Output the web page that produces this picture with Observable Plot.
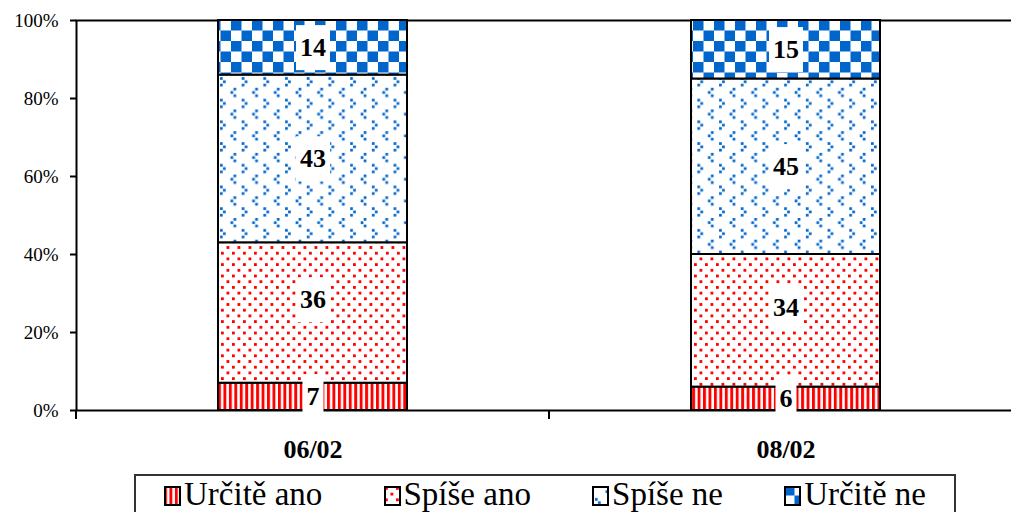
<!DOCTYPE html>
<html>
<head>
<meta charset="utf-8">
<script src="https://cdn.jsdelivr.net/npm/d3@7"></script>
<script src="https://cdn.jsdelivr.net/npm/@observablehq/plot@0.6"></script>
<style>
  html, body { margin: 0; padding: 0; background: #fff; overflow: hidden; width: 1011px; height: 512px; }
  svg.chart { max-width: none !important; display: block; font-family: "Liberation Serif", "Times New Roman", serif !important; }
  svg.chart text { font-family: "Liberation Serif", "Times New Roman", serif !important; }
  svg.chart g[aria-label="y-axis tick label"] text { font-size: 19px !important; }
  .legend {
    box-sizing: border-box; margin-left: 134px; width: 822px; height: 60px;
    border: 2px solid #333; display: flex; justify-content: space-between;
    padding: 0 28px; font-family: "Liberation Serif", "Times New Roman", serif; font-size: 33px;
    line-height: 36px; color: #000;
  }
  .legend .item { display: flex; align-items: center; height: 36px; }
  .legend svg { display: block; margin-right: 3px; margin-top: 3px; }
</style>
</head>
<body>
<div id="chart"></div>
<div class="legend" id="legend"></div>
<script>
const categories = ["06/02", "08/02"];
const series = ["Určitě ano", "Spíše ano", "Spíše ne", "Určitě ne"];
const values0602 = [7, 36, 43, 14];
const values0802 = [6, 34, 45, 15];
const yTicks = [0, 20, 40, 60, 80, 100];
const patternIds = ["p-ua", "p-sa", "p-sn", "p-un"];

const valuesByCat = [values0602, values0802];
const data = [];
categories.forEach((c, ci) => series.forEach((s, si) => data.push({cat: c, series: s, value: valuesByCat[ci][si]})));

const RED = "#ff0000", BLUE = "#0066cc";
const FONT = "Liberation Serif, Times New Roman, serif";

const labelOpts = {x: "cat", y: "value", fontSize: 26, fontWeight: "bold", fill: "#000", fontFamily: FONT};

const plot = Plot.plot({
  width: 1022,
  height: 474,
  marginLeft: 76,
  marginRight: 0,
  marginTop: 20,
  marginBottom: 64,
  className: "chart",
  style: {fontFamily: FONT, color: "#000", background: "#fff", maxWidth: "none"},
  x: {domain: categories, paddingInner: 0.6, paddingOuter: 0.3, label: null},
  y: {domain: [0, 100], label: null},
  color: {domain: series, range: patternIds.map(id => `url(#${id})`)},
  marks: [
    Plot.axisY({ticks: yTicks, tickFormat: d => d + "%", tickSize: 6, tickPadding: 12, fontSize: 19, label: null}),
    Plot.axisX({tickSize: 0, tickPadding: 29, fontSize: 26, fontWeight: "bold", label: null}),
    Plot.frame({stroke: "#000", strokeWidth: 2}),
    Plot.barY(data, {x: "cat", y: "value", fill: "series", stroke: "#000", strokeWidth: 2}),
    Plot.text(data, Plot.stackY({...labelOpts, text: d => d.series === "Spíše ano" ? "" : String(d.value)})),
    Plot.text(data, Plot.stackY({...labelOpts, text: d => d.series === "Spíše ano" ? String(d.value) : "", dy: -13}))
  ]
});

function addDefs(svgSel) {
  const defs = svgSel.insert("defs", ":first-child");
  let p = defs.append("pattern").attr("id", "p-ua").attr("patternUnits", "userSpaceOnUse").attr("width", 5.45).attr("height", 10);
  p.append("rect").attr("width", 5.45).attr("height", 10).attr("fill", "#fff");
  p.append("rect").attr("width", 2.9).attr("height", 10).attr("fill", RED);

  p = defs.append("pattern").attr("id", "p-sa").attr("patternUnits", "userSpaceOnUse").attr("width", 11).attr("height", 11.4);
  p.append("rect").attr("width", 11).attr("height", 11.4).attr("fill", "#fff");
  p.append("rect").attr("x", 1).attr("y", 1).attr("width", 2.8).attr("height", 2.8).attr("fill", RED);
  p.append("rect").attr("x", 6.5).attr("y", 6.7).attr("width", 2.8).attr("height", 2.8).attr("fill", RED);

  p = defs.append("pattern").attr("id", "p-sn").attr("patternUnits", "userSpaceOnUse").attr("width", 21.7).attr("height", 21.7);
  p.append("rect").attr("width", 21.7).attr("height", 21.7).attr("fill", "#fff");
  [[16.5, 1], [13.5, 4.3], [16.5, 7.6], [3, 12], [6, 15.3], [3, 18.6]].forEach(([x, y]) =>
    p.append("rect").attr("x", x).attr("y", y).attr("width", 2.7).attr("height", 2.7).attr("fill", BLUE));

  p = defs.append("pattern").attr("id", "p-un").attr("patternUnits", "userSpaceOnUse").attr("width", 21).attr("height", 21).attr("y", -1);
  p.append("rect").attr("width", 21).attr("height", 21).attr("fill", "#fff");
  p.append("rect").attr("width", 10.5).attr("height", 10.5).attr("fill", BLUE);
  p.append("rect").attr("x", 10.5).attr("y", 10.5).attr("width", 10.5).attr("height", 10.5).attr("fill", BLUE);
}

document.getElementById("chart").append(plot);
const svg = d3.select(plot);
addDefs(svg);

svg.selectAll('g[aria-label="y-axis tick"]').attr("stroke-width", 2).attr("stroke", "#000");

const xs = plot.scale("x"), ys = plot.scale("y");
const step = xs.step || (xs.apply(categories[1]) - xs.apply(categories[0]));
const bw = xs.bandwidth;
const bounds = categories.map(c => xs.apply(c) - (step - bw) / 2);
bounds.push(bounds[bounds.length - 1] + step);
const y0 = ys.apply(0);
svg.append("g").selectAll("line").data(bounds).join("line")
  .attr("x1", d => d).attr("x2", d => d)
  .attr("y1", y0).attr("y2", y0 + 9)
  .attr("stroke", "#000").attr("stroke-width", 2);

svg.selectAll('g[aria-label="text"] text').each(function() {
  if (!this.textContent) return;
  const b = this.getBBox();
  const r = document.createElementNS("http://www.w3.org/2000/svg", "rect");
  const cy = b.y + b.height / 2;
  r.setAttribute("x", b.x - 4);
  r.setAttribute("width", b.width + 8);
  r.setAttribute("y", cy - 22.5);
  r.setAttribute("height", 45);
  r.setAttribute("fill", "#fff");
  const t = this.getAttribute("transform");
  if (t) r.setAttribute("transform", t);
  this.parentNode.insertBefore(r, this);
});

const legend = d3.select("#legend");
series.forEach((s, i) => {
  const item = legend.append("div").attr("class", "item");
  const sw = item.append("svg").attr("width", 17).attr("height", 20);
  sw.append("rect").attr("x", 1).attr("y", 1).attr("width", 15).attr("height", 18)
    .attr("fill", `url(#${patternIds[i]})`).attr("stroke", "#000").attr("stroke-width", 2);
  item.append("span").text(s);
});
</script>
</body>
</html>
